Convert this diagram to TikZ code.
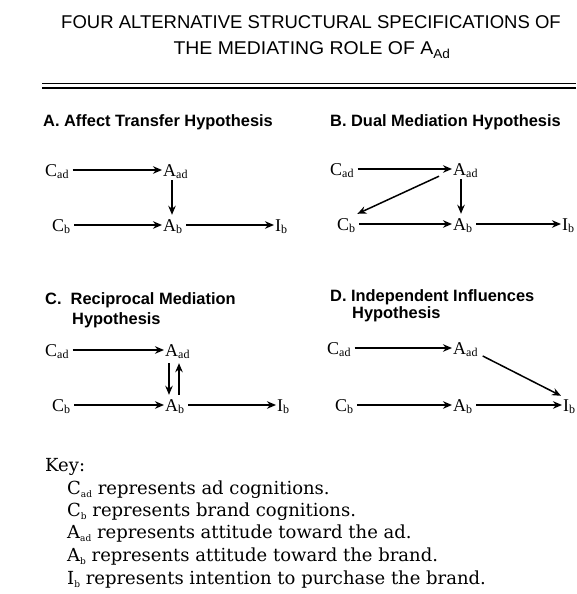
\documentclass[tikz,border=0pt]{standalone}
\usepackage{fontspec}
\setmainfont{Liberation Serif}
\setsansfont{Liberation Sans}
\newfontfamily\keyfont{DejaVu Serif}
\usetikzlibrary{arrows.meta}
\newcommand{\vsub}[1]{\raisebox{-2.5pt}{\fontsize{12}{12}\selectfont #1}}
\newcommand{\ksub}[1]{\raisebox{-3pt}{\fontsize{9}{9}\selectfont #1}}
\begin{document}
\begin{tikzpicture}[x=1pt,y=-1pt,
  var/.style={anchor=west,inner sep=0pt,text height=12pt,text depth=0pt,font=\fontsize{18}{18}\selectfont},
  arr/.style={-{Stealth[length=9pt,width=7.5pt]},line width=1.5pt,shorten <=4pt,shorten >=1pt},
  varr/.style={-{Stealth[length=9pt,width=7.5pt]},line width=1.5pt},
  ptitle/.style={anchor=west,inner sep=0pt,font=\sffamily\bfseries\fontsize{16.4}{16.4}\selectfont},
  mtitle/.style={anchor=center,inner sep=0pt,font=\sffamily\fontsize{18.5}{18.5}\selectfont},
  keyline/.style={anchor=west,inner sep=0pt,text height=13pt,text depth=0pt,font=\keyfont\fontsize{18}{18}\selectfont}]
\useasboundingbox[fill=white] (0,0) rectangle (576,594);
% title
\node[mtitle] (t1) at (311,22) {FOUR ALTERNATIVE STRUCTURAL SPECIFICATIONS OF};
\node[mtitle,xscale=1.05] (t2) at (312,50) {THE MEDIATING ROLE OF A\textsubscript{Ad}};
\draw[line width=1.6pt] (42,83.5) -- (576,83.5);
\draw[line width=1.1pt] (42,88) -- (576,88);
% Panel A
\node[ptitle] (Ta) at (43,122) {A. Affect Transfer Hypothesis};
\node[var] (Acad) at (45,170) {C\vsub{ad}};
\node[var] (Aaad) at (163,170) {A\vsub{ad}};
\node[var] (Acb) at (52,225) {C\vsub{b}};
\node[var] (Aab) at (163,225) {A\vsub{b}};
\node[var] (Aib) at (275,225) {I\vsub{b}};
\draw[arr] (Acad) -- (Aaad);
\draw[arr] (Acb) -- (Aab);
\draw[arr] (Aab) -- (Aib);
\draw[varr,shorten <=4pt,shorten >=4pt] ([xshift=9pt]Aaad.south west) -- ([xshift=9pt]Aab.north west);
% Panel B
\node[ptitle] (Tb) at (330,122) {B. Dual Mediation Hypothesis};
\node[var] (Bcad) at (330,169) {C\vsub{ad}};
\node[var] (Baad) at (453,169) {A\vsub{ad}};
\node[var] (Bcb) at (337,224) {C\vsub{b}};
\node[var] (Bab) at (453,224) {A\vsub{b}};
\node[var] (Bib) at (562,224) {I\vsub{b}};
\draw[arr] (Bcad) -- (Baad);
\draw[arr] (Bcb) -- (Bab);
\draw[arr] (Bab) -- (Bib);
\draw[varr,shorten <=4pt,shorten >=4pt] ([xshift=8pt]Baad.south west) -- ([xshift=8pt]Bab.north west);
\draw[varr] ([xshift=-14pt,yshift=-1pt]Baad.south west) -- ([xshift=2pt,yshift=4pt]Bcb.north east);
% Panel C
\node[ptitle] (Tc1) at (45,300) {C.\ \ Reciprocal Mediation};
\node[ptitle] (Tc2) at (72,320) {Hypothesis};
\node[var] (Ccad) at (45,350) {C\vsub{ad}};
\node[var] (Caad) at (165,350) {A\vsub{ad}};
\node[var] (Ccb) at (52,405) {C\vsub{b}};
\node[var] (Cab) at (165,405) {A\vsub{b}};
\node[var] (Cib) at (277,405) {I\vsub{b}};
\draw[arr] (Ccad) -- (Caad);
\draw[arr] (Ccb) -- (Cab);
\draw[arr] (Cab) -- (Cib);
\draw[varr,shorten <=7pt,shorten >=4pt] ([xshift=4pt]Caad.south west) -- ([xshift=4pt]Cab.north west);
\draw[varr,shorten <=4pt,shorten >=7pt] ([xshift=14pt]Cab.north west) -- ([xshift=14pt]Caad.south west);
% Panel D
\node[ptitle] (Td1) at (330,297) {D. Independent Influences};
\node[ptitle] (Td2) at (352,314) {Hypothesis};
\node[var] (Dcad) at (327,348) {C\vsub{ad}};
\node[var] (Daad) at (453,348) {A\vsub{ad}};
\node[var] (Dcb) at (335,405) {C\vsub{b}};
\node[var] (Dab) at (453,405) {A\vsub{b}};
\node[var] (Dib) at (563,405) {I\vsub{b}};
\draw[arr] (Dcad) -- (Daad);
\draw[arr] (Dcb) -- (Dab);
\draw[arr] (Dab) -- (Dib);
\draw[varr] ([xshift=5pt,yshift=-8pt]Daad.east) -- ([xshift=-2pt,yshift=3pt]Dib.north west);
% Key
\node[keyline] (k0) at (45,465) {Key:};
\node[keyline] (k1) at (67,488) {C\ksub{ad} represents ad cognitions.};
\node[keyline] (k2) at (67,510) {C\ksub{b} represents brand cognitions.};
\node[keyline] (k3) at (67,532) {A\ksub{ad} represents attitude toward the ad.};
\node[keyline] (k4) at (67,555) {A\ksub{b} represents attitude toward the brand.};
\node[keyline] (k5) at (67,578) {I\ksub{b} represents intention to purchase the brand.};
\end{tikzpicture}
\end{document}
